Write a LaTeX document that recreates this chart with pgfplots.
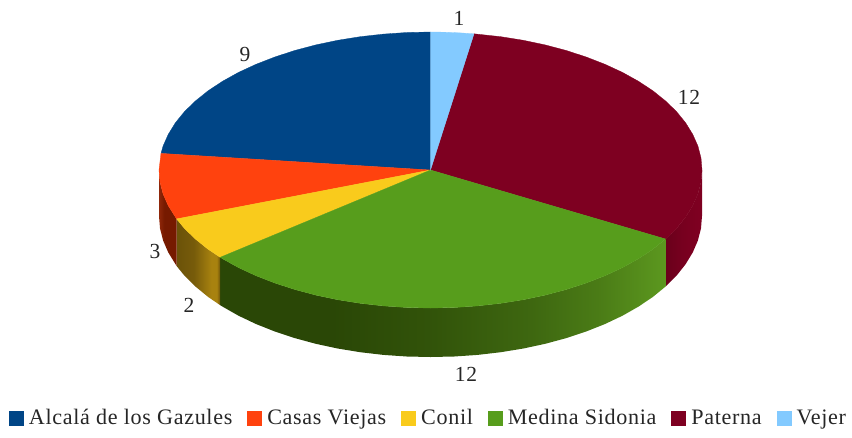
\documentclass[border=0pt]{standalone}
\usepackage{fontspec}
\setmainfont{Liberation Serif}
\newfontfamily\lgfont[LetterSpace=3]{Liberation Serif}
\usepackage{pgfplots}
\pgfplotsset{compat=1.18}
\definecolor{cA}{HTML}{004586}
\definecolor{cC}{HTML}{FF420E}
\definecolor{cO}{HTML}{F9CB1C}
\definecolor{cM}{HTML}{579D1C}
\definecolor{cP}{HTML}{7E0021}
\definecolor{cV}{HTML}{83CAFF}
\definecolor{gD}{HTML}{2A4706}
\definecolor{gL}{HTML}{5C981F}
\definecolor{pD}{HTML}{6A001B}
\definecolor{yD}{HTML}{6B5209}
\definecolor{yL}{HTML}{A8820F}
\definecolor{rD}{HTML}{761A00}
\definecolor{rL}{HTML}{A03010}
% the path box fills 25bp..75bp of a 100bp shading
\pgfdeclarehorizontalshading{wallP}{100bp}{color(0bp)=(pD); color(25bp)=(pD); color(50bp)=(cP!70!pD); color(70bp)=(cP); color(100bp)=(cP)}
\pgfdeclarehorizontalshading{wallM}{100bp}{color(0bp)=(gD); color(37.5bp)=(gD); color(48.5bp)=(gL!15!gD); color(60bp)=(gL!40!gD); color(67.5bp)=(gL!65!gD); color(75bp)=(gL); color(100bp)=(gL)}
\pgfdeclarehorizontalshading{wallO}{100bp}{color(0bp)=(yD); color(25bp)=(yD); color(45bp)=(yD!80!yL); color(65bp)=(yL); color(71bp)=(yL); color(75bp)=(yD); color(100bp)=(yD)}
\pgfdeclarehorizontalshading{wallC}{100bp}{color(0bp)=(rD!40!rL); color(25bp)=(rD!40!rL); color(40bp)=(rD); color(100bp)=(rD)}
\newcommand{\lab}[3]{\node[font=\fontsize{21.5}{22}\lgfont,text=black!85] at (axis cs:#1,#2) {#3};}
\begin{document}
\begin{tikzpicture}
\path[use as bounding box] (0,0) rectangle (852pt,437pt);
\begin{axis}[
  at={(0,0)}, anchor=south west,
  scale only axis, width=852pt, height=437pt,
  xmin=0, xmax=852, ymin=0, ymax=437, y dir=reverse,
  hide axis, clip=false,
  legend columns=6,
  legend cell align=left,
  legend style={draw=none, fill=none, inner sep=0pt, outer sep=0pt,
    at={(axis cs:9,418)}, anchor=west,
    font=\fontsize{22.1}{22}\lgfont, text=black!85,
    /tikz/every even column/.append style={column sep=13pt},
    /tikz/every odd column/.append style={column sep=3pt},
    legend image code/.code={\path[##1] (0pt,-7.5pt) rectangle (15pt,7.5pt);},
  },
]
% side wall: Paterna
\addplot[forget plot,draw=none,shade,shading=wallP] coordinates {(702.0,170)(701.0,182.0)(697.9,194.0)(692.7,205.7)(685.6,217.2)(676.6,228.3)(665.6,239.0)(665.6,286.5)(676.6,275.6)(685.6,264.2)(692.7,252.5)(697.9,240.5)(701.0,228.3)(702.0,216)} -- cycle;
% side wall: Medina Sidonia
\addplot[forget plot,draw=none,shade,shading=wallM] coordinates {(665.6,239.0)(652.9,249.2)(638.5,258.7)(622.5,267.6)(605.0,275.7)(586.2,283.0)(566.3,289.5)(545.2,295.1)(523.4,299.7)(500.8,303.3)(477.6,305.9)(454.2,307.5)(430.5,308)(406.8,307.5)(383.4,305.9)(360.2,303.3)(337.6,299.7)(315.8,295.1)(294.8,289.5)(274.8,283.0)(256.0,275.7)(238.5,267.6)(222.5,258.7)(220.2,257.3)(220.2,305.2)(222.5,306.6)(238.5,315.7)(256.0,324.0)(274.8,331.5)(294.8,338.1)(315.8,343.8)(337.6,348.5)(360.2,352.2)(383.4,354.9)(406.8,356.5)(430.5,357)(454.2,356.5)(477.6,354.9)(500.8,352.2)(523.4,348.5)(545.2,343.8)(566.3,338.1)(586.2,331.5)(605.0,324.0)(622.5,315.7)(638.5,306.6)(652.9,296.9)(665.6,286.5)} -- cycle;
% side wall: Conil
\addplot[forget plot,draw=none,shade,shading=wallO] coordinates {(220.2,257.3)(208.1,249.2)(195.4,239.0)(184.4,228.3)(176.6,218.9)(176.6,266.0)(184.4,275.6)(195.4,286.5)(208.1,296.9)(220.2,305.2)} -- cycle;
% side wall: Casas Viejas
\addplot[forget plot,draw=none,shade,shading=wallC] coordinates {(176.6,218.9)(168.3,205.7)(163.1,194.0)(160.0,182.0)(159.0,170)(159.0,216)(160.0,228.3)(163.1,240.5)(168.3,252.5)(176.6,266.0)} -- cycle;
% top: Alcala de los Gazules
\addplot[forget plot,fill=cA,draw=cA,line width=.3pt] coordinates {(430.5,170)(161.0,153.4)(163.1,146.0)(168.3,134.3)(175.4,122.8)(184.4,111.7)(195.4,101.0)(208.1,90.8)(222.5,81.3)(238.5,72.4)(256.0,64.3)(274.8,57.0)(294.7,50.5)(315.8,44.9)(337.6,40.3)(360.2,36.7)(383.4,34.1)(406.8,32.5)(430.5,32)} -- cycle;
% top: Casas Viejas
\addplot[forget plot,fill=cC,draw=cC,line width=.3pt] coordinates {(430.5,170)(176.6,218.9)(168.3,205.7)(163.1,194.0)(160.0,182.0)(159.0,170)(161.0,153.4)} -- cycle;
% top: Conil
\addplot[forget plot,fill=cO,draw=cO,line width=.3pt] coordinates {(430.5,170)(220.2,257.3)(208.1,249.2)(195.4,239.0)(184.4,228.3)(176.6,218.9)} -- cycle;
% top: Paterna
\addplot[forget plot,fill=cP,draw=cP,line width=.3pt] coordinates {(430.5,170)(474.0,33.8)(500.8,36.7)(523.4,40.3)(545.2,44.9)(566.3,50.5)(586.2,57.0)(605.0,64.3)(622.5,72.4)(638.5,81.3)(652.9,90.8)(665.6,101.0)(676.6,111.7)(685.6,122.8)(692.7,134.3)(697.9,146.0)(701.0,158.0)(702.0,170)(701.0,182.0)(697.9,194.0)(692.7,205.7)(685.6,217.2)(676.6,228.3)(665.6,239.0)} -- cycle;
% top: Medina Sidonia
\addplot[forget plot,fill=cM,draw=cM,line width=.3pt] coordinates {(430.5,170)(665.6,239.0)(652.9,249.2)(638.5,258.7)(622.5,267.6)(605.0,275.7)(586.2,283.0)(566.3,289.5)(545.2,295.1)(523.4,299.7)(500.8,303.3)(477.6,305.9)(454.2,307.5)(430.5,308)(406.8,307.5)(383.4,305.9)(360.2,303.3)(337.6,299.7)(315.8,295.1)(294.8,289.5)(274.8,283.0)(256.0,275.7)(238.5,267.6)(222.5,258.7)(220.2,257.3)} -- cycle;
% top: Vejer
\addplot[forget plot,fill=cV,draw=cV,line width=.3pt] coordinates {(430.5,170)(430.5,32)(444.7,32.2)(458.9,32.8)(474.0,33.8)} -- cycle;
% data labels
\lab{245}{54}{9}
\lab{459}{18}{1}
\lab{689}{97}{12}
\lab{466}{374}{12}
\lab{189}{305}{2}
\lab{155}{251}{3}
% legend
\addlegendimage{fill=cA,draw=none}\addlegendentry{Alcalá de los Gazules}
\addlegendimage{fill=cC,draw=none}\addlegendentry{Casas Viejas}
\addlegendimage{fill=cO,draw=none}\addlegendentry{Conil}
\addlegendimage{fill=cM,draw=none}\addlegendentry{Medina Sidonia}
\addlegendimage{fill=cP,draw=none}\addlegendentry{Paterna}
\addlegendimage{fill=cV,draw=none}\addlegendentry{Vejer}
\end{axis}
\end{tikzpicture}
\end{document}
